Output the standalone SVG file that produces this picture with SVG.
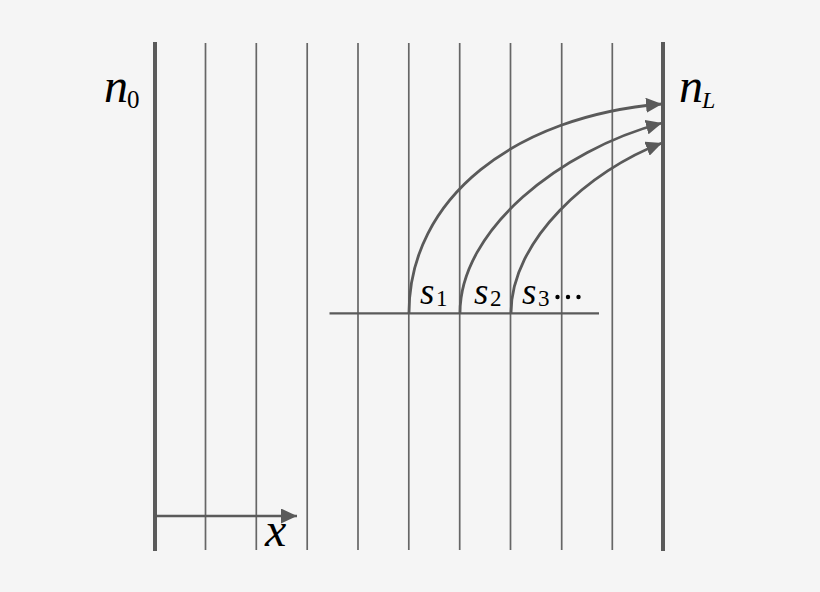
<svg xmlns="http://www.w3.org/2000/svg" width="820" height="592" viewBox="0 0 820 592">
<style>
.thick{stroke:#5a5a5a;stroke-width:4;fill:none}
.thin{stroke:#666;stroke-width:1.7;fill:none}
.base{stroke:#5a5a5a;stroke-width:2.2;fill:none}
.arc{stroke:#5a5a5a;stroke-width:2.8;fill:none;marker-end:url(#ah)}
.ax{stroke:#5a5a5a;stroke-width:2.4;fill:none;marker-end:url(#ah)}
text{font-family:'Liberation Serif','Times New Roman',serif;fill:#000}
.var{font-style:italic}
</style>
<defs>
<marker id="ah" viewBox="0 0 16 15" refX="16" refY="7.5" markerWidth="16" markerHeight="15" markerUnits="userSpaceOnUse" orient="auto">
<path d="M0,0 L16,7.5 L0,15 Z" fill="#5a5a5a"/>
</marker>
</defs>
<rect width="820" height="592" fill="#f5f5f5"/>
<g id="layers">
<line class="thick" x1="155" y1="42" x2="155" y2="551"/>
<line class="thin" x1="205.5" y1="43" x2="205.5" y2="550"/>
<line class="thin" x1="256.3" y1="43" x2="256.3" y2="550"/>
<line class="thin" x1="307.2" y1="43" x2="307.2" y2="550"/>
<line class="thin" x1="358" y1="43" x2="358" y2="550"/>
<line class="thin" x1="408.8" y1="43" x2="408.8" y2="550"/>
<line class="thin" x1="459.7" y1="43" x2="459.7" y2="550"/>
<line class="thin" x1="510.5" y1="43" x2="510.5" y2="550"/>
<line class="thin" x1="561.7" y1="43" x2="561.7" y2="550"/>
<line class="thin" x1="612.3" y1="43" x2="612.3" y2="550"/>
<line class="thick" x1="663" y1="42" x2="663" y2="551"/>
<line class="base" x1="329.5" y1="313.3" x2="599" y2="313.3"/>
</g>
<g id="connectors">
<path class="arc" d="M409,313 C409,198 515,116 662,104"/>
<path class="arc" d="M460,313 C460,230 560,150 662,123"/>
<path class="arc" d="M511,313 C511,240 590,170 662,143"/>
<path class="ax" d="M155,516 L297,516"/>
</g>
<g id="label-n0">
<text class="var" x="104" y="102" font-size="48">n</text>
<text x="127" y="108" font-size="25">0</text>
</g>
<g id="label-nL">
<text class="var" x="679" y="102" font-size="48">n</text>
<text class="var" x="702" y="108" font-size="24">L</text>
</g>
<g id="label-x">
<text class="var" x="265" y="546" font-size="48">x</text>
</g>
<g id="label-s">
<text class="var" x="420" y="304" font-size="37">s</text>
<text x="436" y="306" font-size="23">1</text>
<text class="var" x="474" y="304" font-size="37">s</text>
<text x="490" y="306" font-size="23">2</text>
<text class="var" x="522" y="304" font-size="37">s</text>
<text x="538" y="306" font-size="23">3</text>
<circle cx="557.5" cy="297" r="2.2" fill="#000"/>
<circle cx="568" cy="297" r="2.2" fill="#000"/>
<circle cx="578.5" cy="297" r="2.2" fill="#000"/>
</g>
</svg>
